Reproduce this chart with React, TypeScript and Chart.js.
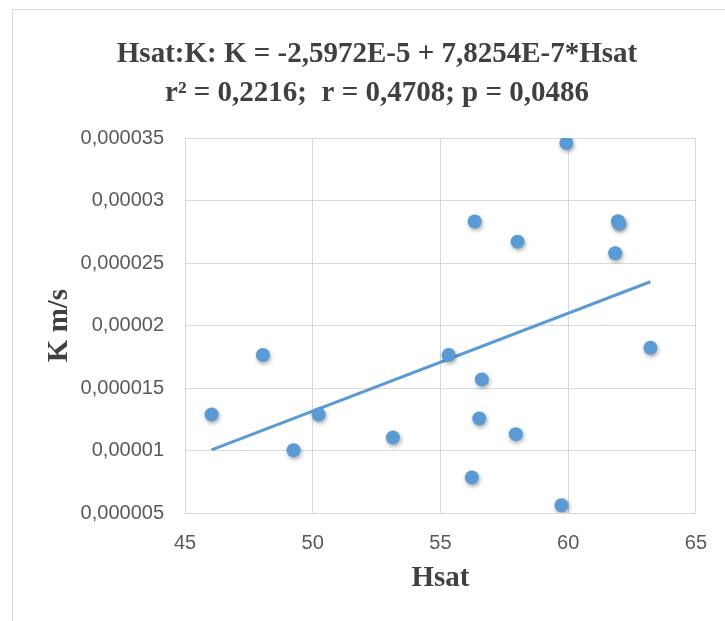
import React, { useEffect, useRef } from 'react';
import { Chart, registerables } from 'chart.js';

Chart.register(...registerables);

// Hsat (x) values
const hsat = [46.04, 48.05, 49.25, 50.23, 53.14, 55.32, 56.34, 56.62, 56.52, 56.23, 58.02, 57.95, 59.93, 59.74, 61.84, 61.95, 62.0, 63.22];
// K m/s (y) values
const kValues = [
  0.00001288, 0.00001764, 0.00001002, 0.00001288, 0.00001104, 0.00001764,
  0.00002832, 0.00001569, 0.00001256, 0.00000784, 0.00002671, 0.00001131,
  0.0000346, 0.00000562, 0.00002578, 0.00002835, 0.00002815, 0.00001822,
];

// Regression from the title
const trendIntercept = -2.5972e-5;
const trendSlope = 7.8254e-7;

const xTicks = [45, 50, 55, 60, 65];
const yTicks = [0.000005, 0.00001, 0.000015, 0.00002, 0.000025, 0.00003, 0.000035];

const titleLines = [
  'Hsat:K: K = -2,5972E-5 + 7,8254E-7*Hsat',
  'r\u00B2 = 0,2216;  r = 0,4708; p = 0,0486',
];
const xTitle = 'Hsat';
const yTitle = 'K m/s';

const shadowPlugin = {
  id: 'pointShadow',
  beforeDatasetDraw(chart: any, args: any) {
    if (args.index === 0) {
      const ctx = chart.ctx;
      ctx.save();
      ctx.shadowColor = 'rgba(0,0,0,0.35)';
      ctx.shadowBlur = 4;
      ctx.shadowOffsetX = 1;
      ctx.shadowOffsetY = 2;
    }
  },
  afterDatasetDraw(chart: any, args: any) {
    if (args.index === 0) {
      chart.ctx.restore();
    }
  },
};

export default function App() {
  const ref = useRef<HTMLCanvasElement | null>(null);

  useEffect(() => {
    if (!ref.current) return;
    const xMin = Math.min(...hsat);
    const xMax = Math.max(...hsat);
    const points = hsat.map((x, i) => ({ x, y: kValues[i] }));
    const trend = [
      { x: xMin, y: trendIntercept + trendSlope * xMin },
      { x: xMax, y: trendIntercept + trendSlope * xMax },
    ];
    const tickFont = { family: 'Liberation Sans', size: 20 };
    const chart = new Chart(ref.current, {
      type: 'scatter',
      data: {
        datasets: [
          {
            data: points,
            backgroundColor: '#5B9BD5',
            borderColor: '#5B9BD5',
            pointRadius: 7,
            pointBorderWidth: 0,
          },
          {
            data: trend,
            showLine: true,
            borderColor: '#5B9BD5',
            borderWidth: 3,
            pointRadius: 0,
            fill: false,
          } as any,
        ],
      },
      options: {
        animation: false,
        responsive: false,
        maintainAspectRatio: false,
        layout: { padding: { left: 56, right: 27, top: 0, bottom: 0 } },
        plugins: {
          legend: { display: false },
          tooltip: { enabled: false },
          title: {
            display: true,
            text: titleLines,
            color: '#404040',
            font: { family: 'Liberation Serif', size: 29, weight: 'bold', lineHeight: 39 / 29 },
            padding: { top: 35, bottom: 25 },
          },
        },
        scales: {
          x: {
            type: 'linear',
            min: 45,
            max: 65,
            afterBuildTicks: (scale: any) => {
              scale.ticks = xTicks.map((v) => ({ value: v }));
            },
            afterFit: (scale: any) => {
              scale.height = 108;
            },
            grid: { color: '#d9d9d9', drawTicks: false, lineWidth: 1 },
            border: { display: true, color: '#d9d9d9' },
            ticks: {
              color: '#595959',
              font: tickFont,
              padding: 18,
              callback: (v: any) => String(v),
            },
            title: {
              display: true,
              text: xTitle,
              color: '#404040',
              font: { family: 'Liberation Serif', size: 29, weight: 'bold', lineHeight: 1.2 },
              padding: { top: 0, bottom: 24.6 },
            },
          },
          y: {
            type: 'linear',
            min: 0.000005,
            max: 0.000035,
            afterBuildTicks: (scale: any) => {
              scale.ticks = yTicks.map((v) => ({ value: v }));
            },
            afterFit: (scale: any) => {
              scale.width = 129;
            },
            grid: { color: '#d9d9d9', drawTicks: false, lineWidth: 1 },
            border: { display: true, color: '#d9d9d9' },
            ticks: {
              color: '#595959',
              font: tickFont,
              padding: 21,
              callback: (v: any) => Number(Number(v).toFixed(6)).toString().replace('.', ','),
            },
            title: {
              display: true,
              text: yTitle,
              color: '#404040',
              font: { family: 'Liberation Serif', size: 29, weight: 'bold', lineHeight: 1 },
              padding: { top: -10.5, bottom: 0 },
            },
          },
        },
      },
      plugins: [shadowPlugin],
    } as any);
    return () => chart.destroy();
  }, []);

  return (
    <div style={{ position: 'absolute', left: 0, top: 0, width: 725, height: 621, overflow: 'hidden', background: '#fff' }}>
      <div
        style={{
          position: 'absolute',
          left: 12,
          top: 9,
          width: 800,
          height: 700,
          borderTop: '1px solid #d9d9d9',
          borderLeft: '1px solid #d9d9d9',
        }}
      />
      <canvas ref={ref} width={725} height={621} style={{ position: 'absolute', left: 0, top: 0, width: 725, height: 621 }} />
    </div>
  );
}
